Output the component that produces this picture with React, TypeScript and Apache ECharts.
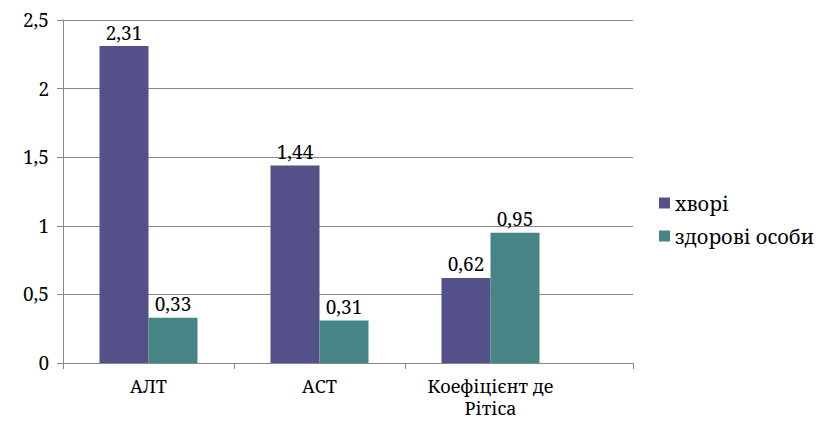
import React, { useEffect, useRef } from "react";
import * as echarts from "echarts";

const categories = ["АЛТ", "АСТ", "Коефіцієнт де Рітіса"];
const seriesNames = ["хворі", "здорові особи"];
const sickValues = [2.31, 1.44, 0.62];
const healthyValues = [0.33, 0.31, 0.95];
const yMin = 0;
const yMax = 2.5;
const yInterval = 0.5;

const FONT = "Noto Serif";
const fmt = (v: number) => String(v).replace(".", ",");
const wrap = (s: string) => (s.length > 12 ? s.replace(/ (\S+)$/, "\n$1") : s);

export default function App() {
  const ref = useRef<HTMLDivElement>(null);
  useEffect(() => {
    if (!ref.current) return;
    const chart = echarts.init(ref.current, null, { renderer: "svg" });
    const labelStyle = {
      show: true,
      position: "top" as const,
      distance: 4,
      color: "#000",
      fontFamily: FONT,
      fontSize: 19,
      formatter: (p: any) => fmt(p.value),
    };
    const tickStyle = { show: true, length: 6, lineStyle: { color: "#888" } };
    chart.setOption({
      animation: false,
      backgroundColor: "#fff",
      textStyle: { fontFamily: FONT },
      color: ["#54508A", "#468485"],
      legend: {
        orient: "vertical",
        left: 646,
        top: 180,
        itemWidth: 11,
        itemHeight: 11,
        itemGap: 13,
        icon: "rect",
        textStyle: { fontFamily: FONT, fontSize: 20, color: "#000" },
        data: seriesNames,
      },
      grid: [
        { left: 55, top: 12, width: 513, height: 343, containLabel: false, outerBoundsMode: "none" },
        { left: 55, top: 12, width: 570, height: 343, containLabel: false, outerBoundsMode: "none" },
        { left: 55, top: 12, width: 342, height: 343, containLabel: false, outerBoundsMode: "none" },
      ],
      xAxis: [
        {
          type: "category",
          gridIndex: 0,
          data: categories,
          axisLine: { show: false },
          axisTick: { show: false },
          axisLabel: {
            interval: 0,
            hideOverlap: false,
            color: "#000",
            fontFamily: FONT,
            fontSize: 18,
            margin: 12,
            lineHeight: 22,
            formatter: (v: string) => wrap(v),
          },
        },
        {
          type: "value",
          gridIndex: 1,
          min: 0,
          max: 1,
          interval: 1,
          axisLine: { show: true, lineStyle: { color: "#888" } },
          axisTick: tickStyle,
          axisLabel: { show: false },
          splitLine: { show: false },
        },
        {
          type: "category",
          gridIndex: 2,
          data: categories.slice(0, 2),
          axisLine: { show: false },
          axisTick: tickStyle,
          axisLabel: { show: false },
        },
      ],
      yAxis: [
        {
          type: "value",
          gridIndex: 0,
          min: yMin,
          max: yMax,
          interval: yInterval,
          axisLine: { show: false },
          axisTick: { show: false },
          axisLabel: { show: false },
          splitLine: { show: false },
        },
        {
          type: "value",
          gridIndex: 1,
          min: yMin,
          max: yMax,
          interval: yInterval,
          axisLine: { show: true, lineStyle: { color: "#888" } },
          axisTick: tickStyle,
          axisLabel: {
            color: "#000",
            fontFamily: FONT,
            fontSize: 19,
            margin: 14,
            formatter: (v: number) => fmt(v),
          },
          splitLine: { show: true, lineStyle: { color: "#888", width: 1 } },
        },
        {
          type: "value",
          gridIndex: 2,
          min: yMin,
          max: yMax,
          show: false,
        },
      ],
      series: [
        {
          name: seriesNames[0],
          type: "bar",
          xAxisIndex: 0,
          yAxisIndex: 0,
          data: sickValues,
          barWidth: 49,
          barGap: "0%",
          label: labelStyle,
          z: 3,
        },
        {
          name: seriesNames[1],
          type: "bar",
          xAxisIndex: 0,
          yAxisIndex: 0,
          data: healthyValues,
          barWidth: 49,
          barGap: "0%",
          label: labelStyle,
          z: 3,
        },
      ],
    });
    return () => chart.dispose();
  }, []);
  return <div ref={ref} style={{ width: 815, height: 418 }} />;
}
